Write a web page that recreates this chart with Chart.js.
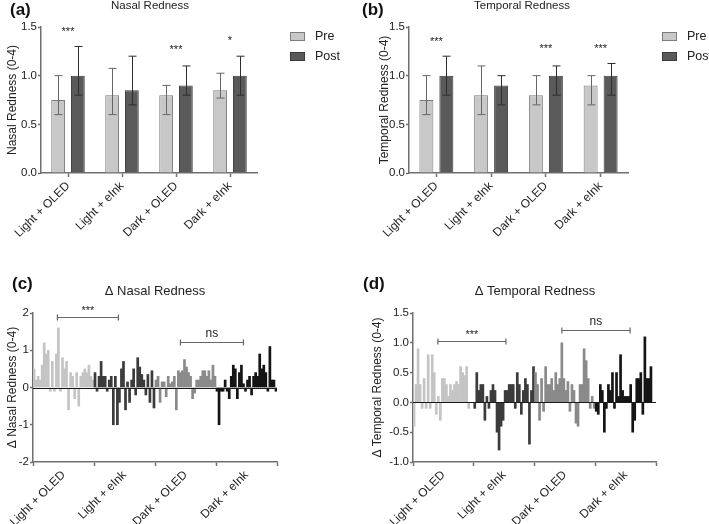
<!DOCTYPE html>
<html><head><meta charset="utf-8">
<script src="https://cdn.jsdelivr.net/npm/chart.js@4.4.0/dist/chart.umd.min.js"></script>
<style>
html,body{margin:0;padding:0;background:#fff;width:709px;height:524px;overflow:hidden}
canvas{position:absolute}
</style></head><body>
<canvas id="ca" style="left:0;top:0;width:354px;height:262px" width="354" height="262"></canvas>
<canvas id="cb" style="left:354px;top:0;width:355px;height:262px" width="355" height="262"></canvas>
<canvas id="cc" style="left:0;top:262px;width:354px;height:262px" width="354" height="262"></canvas>
<canvas id="cd" style="left:354px;top:262px;width:355px;height:262px" width="355" height="262"></canvas>
<script>
// ---------- data ----------
const categories = ['Light + OLED', 'Light + eInk', 'Dark + OLED', 'Dark + eInk'];
const seriesNames = ['Pre', 'Post'];

const nasalPre      = [0.75, 0.80, 0.80, 0.85];
const nasalPreLow   = [0.60, 0.60, 0.60, 0.77];
const nasalPreHigh  = [1.00, 1.075, 0.90, 1.025];
const nasalPost     = [1.00, 0.85, 0.90, 1.00];
const nasalPostLow  = [0.80, 0.70, 0.80, 0.80];
const nasalPostHigh = [1.30, 1.20, 1.10, 1.20];
const nasalSig      = ['***', '', '***', '*'];
const nasalSigY     = [1.48, null, 1.29, 1.39];

const tempPre      = [0.75, 0.80, 0.80, 0.90];
const tempPreLow   = [0.60, 0.60, 0.70, 0.70];
const tempPreHigh  = [1.00, 1.10, 1.00, 1.00];
const tempPost     = [1.00, 0.90, 1.00, 1.00];
const tempPostLow  = [0.80, 0.70, 0.80, 0.80];
const tempPostHigh = [1.20, 1.00, 1.10, 1.125];
const tempSig      = ['***', '', '***', '***'];
const tempSigY     = [1.38, null, 1.30, 1.30];

const nasalDeltaLightOLED = [0.5,0.2,0.3,0.2,0.6,1.2,0.9,1.0,-0.1,0.7,-0.1,0.9,1.6,-0.1,0.8,0.5,0.7,-0.6,0.4,0.3,-0.3,0.4,-0.5,0.3,0.4,0.5,0.4,0.6,0.3,0.2];
const nasalDeltaLightEInk = [0.4,-0.1,0.3,0.7,0.3,0.3,-0.1,0.2,0.3,-1.0,0.3,-1.0,-0.4,0.5,0.7,-0.6,0.15,-0.4,0.2,0.5,-0.2,0.8,0.55,0.35,0.2,-0.2,0.35,-0.4,0.45,-0.55];
const nasalDeltaDarkOLED  = [0.2,0.3,-0.4,0.15,0.15,-0.25,0.3,0.1,0.15,0.3,-0.6,0.45,0.4,0.45,0.75,0.55,0.4,0.3,-0.3,-0.15,0.2,0.2,0.3,0.45,0.45,0.3,0.45,0.2,0.6,0.3];
const nasalDeltaDarkEInk  = [-0.1,-1.0,-0.1,-0.1,0.2,-0.1,-0.3,0.3,0.6,0.5,-0.3,0.4,0.6,0.1,-0.1,0.2,0.3,-0.2,0.3,0.4,0.3,0.9,0.5,0.6,0.4,-0.1,1.1,0.2,0.2,-0.1];

const tempDeltaLightOLED = [-0.4,0.3,0.9,0.3,-0.1,0.4,-0.1,0.8,-0.1,0.8,0.5,-0.2,0.1,-0.3,0.4,0.4,0.3,0.1,0.3,0.2,0.3,0.35,0.3,0.6,0.5,0.45,0.6,-0.1,0,0];
const tempDeltaLightEInk = [-0.1,0.5,0.2,0.3,0.3,-0.3,0.1,-0.1,0.2,0.3,0.2,-0.5,-0.8,-0.4,-0.3,0.2,0.2,0.3,0.3,0.3,-0.1,0.5,0.3,-0.2,0.2,0.4,0.3,-0.7,0.2,0.6];
const tempDeltaDarkOLED  = [0.5,0.3,-0.3,0.4,-0.15,0.6,0.3,0.3,0.4,0.2,0.5,0.3,0.4,1.0,0.4,0.2,0.35,-0.15,0.3,0.2,-0.35,-0.4,0.3,0.3,0.9,0.7,0.4,-0.1,0.1,-0.1];
const tempDeltaDarkEInk  = [-0.15,-0.2,0.3,0.2,-0.5,-0.1,0.3,0.2,0.5,-0.1,0.5,0.1,0.8,0.2,0.1,0.1,0.1,0.3,-0.5,-0.3,0.4,0.4,0.5,-0.2,1.1,0.4,0.4,0.6,0,0];

// significance brackets (x in bar-index units, y in data units)
const nasalBracketFrom  = [11.5, 72];
const nasalBracketTo    = [41.5, 103];
const nasalBracketY     = [1.88, 1.23];
const nasalBracketLabel = ['***', 'ns'];
const tempBracketFrom   = [11.8, 73];
const tempBracketTo     = [45.4, 106.7];
const tempBracketY      = [1.03, 1.22];
const tempBracketLabel  = ['***', 'ns'];

// ---------- styling ----------
const FONT = "'Liberation Sans', Arial, Helvetica, sans-serif";
Chart.defaults.font.family = FONT;
Chart.defaults.font.size = 12;
Chart.defaults.color = '#222';
Chart.defaults.animation = false;
const AXIS = '#707070';
const groupColors = ['#c4c4c4', '#3b3b3b', '#8a8a8a', '#151515'];

const errorBars = {
  id: 'errorBars',
  afterDatasetsDraw(chart) {
    const ctx = chart.ctx, ys = chart.scales.y;
    chart.data.datasets.forEach((ds, di) => {
      if (!ds.errLow) return;
      const meta = chart.getDatasetMeta(di);
      ctx.save();
      ctx.strokeStyle = ds.errColor; ctx.lineWidth = 1;
      meta.data.forEach((bar, i) => {
        const x = Math.round(bar.x) + 0.5;
        const yl = ys.getPixelForValue(ds.errLow[i]);
        const yh = ys.getPixelForValue(ds.errHigh[i]);
        ctx.beginPath();
        ctx.moveTo(x, yl); ctx.lineTo(x, yh);
        ctx.moveTo(x - 4, yh); ctx.lineTo(x + 4, yh);
        ctx.moveTo(x - 4, yl); ctx.lineTo(x + 4, yl);
        ctx.stroke();
      });
      ctx.restore();
    });
  }
};

const deco = {
  id: 'deco',
  afterDatasetsDraw(chart, args, o) {
    const ctx = chart.ctx, ys = chart.scales.y, ca = chart.chartArea;
    ctx.save();
    if (o.zeroLine) {
      const y0 = Math.round(ys.getPixelForValue(0)) + 0.5;
      ctx.strokeStyle = '#1a1a1a'; ctx.lineWidth = 1;
      ctx.beginPath(); ctx.moveTo(ca.left, y0); ctx.lineTo(ca.right, y0); ctx.stroke();
    }
    ctx.restore();
  },
  afterDraw(chart, args, o) {
    const ctx = chart.ctx, xs = chart.scales.x, ys = chart.scales.y;
    ctx.save();
    ctx.fillStyle = '#111';
    ctx.font = 'bold 17px ' + FONT; ctx.textAlign = 'left'; ctx.textBaseline = 'top';
    ctx.fillText(o.letter, o.letterX, o.letterY);
    ctx.font = o.titleSize + 'px ' + FONT; ctx.textAlign = 'center'; ctx.textBaseline = 'middle';
    ctx.fillStyle = '#222';
    ctx.fillText(o.title, o.titleX, o.titleY);
    if (o.legend) {
      chart.data.datasets.forEach((ds, i) => {
        const y = o.legendY + i * 20;
        ctx.fillStyle = ds.backgroundColor;
        ctx.fillRect(o.legendX, y - 4, 15, 9);
        ctx.strokeStyle = ds.borderColor; ctx.lineWidth = 1;
        ctx.strokeRect(o.legendX + 0.5, y - 3.5, 14, 8);
        ctx.fillStyle = '#222'; ctx.textAlign = 'left'; ctx.textBaseline = 'middle';
        ctx.font = '12.5px ' + FONT;
        ctx.fillText(ds.label, o.legendX + 25, y + 1);
      });
    }
    if (o.sig) {
      ctx.font = '11px ' + FONT; ctx.textAlign = 'center'; ctx.textBaseline = 'alphabetic';
      ctx.fillStyle = '#222';
      o.sig.forEach((s, i) => {
        if (!s) return;
        ctx.fillText(s, xs.getPixelForValue(i), ys.getPixelForValue(o.sigY[i]) + 6);
      });
    }
    if (o.brFrom) {
      o.brFrom.forEach((f, i) => {
        const x1 = xs.getPixelForValue(f), x2 = xs.getPixelForValue(o.brTo[i]);
        const y = Math.round(ys.getPixelForValue(o.brY[i])) + 0.5;
        ctx.strokeStyle = '#666'; ctx.lineWidth = 1.2;
        ctx.beginPath();
        ctx.moveTo(x1, y); ctx.lineTo(x2, y);
        ctx.moveTo(x1, y - 3); ctx.lineTo(x1, y + 3);
        ctx.moveTo(x2, y - 3); ctx.lineTo(x2, y + 3);
        ctx.stroke();
        const lab = o.brLabel[i];
        ctx.fillStyle = '#222'; ctx.textAlign = 'center'; ctx.textBaseline = 'alphabetic';
        if (lab.indexOf('*') >= 0) { ctx.font = '11px ' + FONT; ctx.fillText(lab, (x1 + x2) / 2, y - 4); }
        else { ctx.font = '12px ' + FONT; ctx.fillText(lab, (x1 + x2) / 2, y - 6); }
      });
    }
    ctx.restore();
  }
};

function groupedChart(id, c) {
  return new Chart(document.getElementById(id), {
    type: 'bar',
    data: {
      labels: categories,
      datasets: [
        { label: seriesNames[0], data: c.pre, errLow: c.preLow, errHigh: c.preHigh,
          backgroundColor: '#c8c8c8', borderColor: '#7c7c7c', errColor: '#666', borderWidth: 1,
          categoryPercentage: 0.73, barPercentage: 0.7 },
        { label: seriesNames[1], data: c.post, errLow: c.postLow, errHigh: c.postHigh,
          backgroundColor: '#5a5a5a', borderColor: '#3a3a3a', errColor: '#2e2e2e', borderWidth: 1,
          categoryPercentage: 0.73, barPercentage: 0.7 }
      ]
    },
    options: {
      responsive: false, animation: false,
      layout: { padding: { left: 0, top: 27, right: c.padRight, bottom: 0 } },
      plugins: { legend: { display: false }, tooltip: { enabled: false }, deco: c.deco },
      scales: {
        x: {
          grid: { offset: false, drawOnChartArea: false, tickLength: 4, tickColor: AXIS, tickWidth: 1.5 },
          border: { color: AXIS, width: 1.5 },
          ticks: { minRotation: 45, maxRotation: 45, autoSkip: false, padding: 2, color: '#222', font: { size: 12 } },
          afterFit: s => { s.height = 89; s.paddingLeft = 0; s.paddingRight = 0; }
        },
        y: {
          min: 0, max: 1.5,
          grid: { drawOnChartArea: false, tickLength: 3, tickColor: AXIS, tickWidth: 1.5 },
          border: { color: AXIS, width: 1.5 },
          ticks: { stepSize: 0.5, padding: 1, color: '#222', font: { size: 11.5 }, callback: v => v.toFixed(1) },
          title: { display: true, text: c.yTitle, color: '#222', font: { size: 12 }, padding: { top: c.yTitlePad, bottom: 0 } },
          afterFit: s => { s.width = c.yWidth; s.paddingTop = 0; s.paddingBottom = 0; }
        }
      }
    },
    plugins: [errorBars, deco]
  });
}

function deltaChart(id, groups, c) {
  const pts = [], cols = [];
  groups.forEach((arr, g) => arr.forEach((v, i) => { pts.push({ x: g * arr.length + i, y: v }); cols.push(groupColors[g]); }));
  const n = groups[0].length;
  const centers = categories.map((_, g) => g * n + (n - 1) / 2);
  return new Chart(document.getElementById(id), {
    type: 'bar',
    data: { datasets: [{ data: pts, backgroundColor: cols, borderWidth: 0, categoryPercentage: 1, barPercentage: 1 }] },
    options: {
      responsive: false, animation: false,
      layout: { padding: { left: 0, top: 51, right: c.padRight, bottom: 0 } },
      plugins: { legend: { display: false }, tooltip: { enabled: false }, deco: c.deco },
      scales: {
        x: {
          type: 'linear', min: -0.5, max: groups.length * n - 0.5, offset: false,
          grid: { drawOnChartArea: false, tickLength: 4, tickColor: AXIS, tickWidth: 1.5 },
          border: { color: AXIS, width: 1.5 },
          afterBuildTicks: s => { s.ticks = centers.map(v => ({ value: v })); },
          ticks: { minRotation: 45, maxRotation: 45, autoSkip: false, padding: 2, color: '#222', font: { size: 12 },
                   callback: (v, i) => categories[i] },
          afterFit: s => { s.height = 62; s.paddingLeft = 0; s.paddingRight = 0; }
        },
        y: {
          min: c.yMin, max: c.yMax,
          grid: { drawOnChartArea: false, tickLength: 3, tickColor: AXIS, tickWidth: 1.5 },
          border: { color: AXIS, width: 1.5 },
          ticks: { stepSize: c.yStep, padding: 1, color: '#222', font: { size: 11.5 }, callback: c.yFmt },
          title: { display: true, text: c.yTitle, color: '#222', font: { size: 12 }, padding: { top: c.yTitlePad, bottom: 0 } },
          afterFit: s => { s.width = c.yWidth; s.paddingTop = 0; s.paddingBottom = 0; }
        }
      }
    },
    plugins: [deco]
  });
}

groupedChart('ca', {
  pre: nasalPre, preLow: nasalPreLow, preHigh: nasalPreHigh,
  post: nasalPost, postLow: nasalPostLow, postHigh: nasalPostHigh,
  padRight: 97, yWidth: 41, yTitle: 'Nasal Redness (0-4)', yTitlePad: 5,
  deco: { letter: '(a)', letterX: 10, letterY: 2, title: 'Nasal Redness', titleSize: 11.5, titleX: 150, titleY: 6,
          legend: true, legendX: 290, legendY: 36, sig: nasalSig, sigY: nasalSigY }
});
groupedChart('cb', {
  pre: tempPre, preLow: tempPreLow, preHigh: tempPreHigh,
  post: tempPost, postLow: tempPostLow, postHigh: tempPostHigh,
  padRight: 81, yWidth: 55, yTitle: 'Temporal Redness (0-4)', yTitlePad: 23,
  deco: { letter: '(b)', letterX: 8, letterY: 2, title: 'Temporal Redness', titleSize: 11.5, titleX: 168, titleY: 6,
          legend: true, legendX: 308, legendY: 36, sig: tempSig, sigY: tempSigY }
});
deltaChart('cc', [nasalDeltaLightOLED, nasalDeltaLightEInk, nasalDeltaDarkOLED, nasalDeltaDarkEInk], {
  padRight: 77, yWidth: 33, yMin: -2, yMax: 2, yStep: 1, yFmt: v => String(v),
  yTitle: 'Δ Nasal Redness (0-4)', yTitlePad: 5,
  deco: { letter: '(c)', letterX: 12, letterY: 14, title: 'Δ Nasal Redness', titleSize: 13, titleX: 155, titleY: 29,
          zeroLine: true, brFrom: nasalBracketFrom, brTo: nasalBracketTo, brY: nasalBracketY, brLabel: nasalBracketLabel }
});
deltaChart('cd', [tempDeltaLightOLED, tempDeltaLightEInk, tempDeltaDarkOLED, tempDeltaDarkEInk], {
  padRight: 53, yWidth: 59, yMin: -1, yMax: 1.5, yStep: 0.5, yFmt: v => v.toFixed(1),
  yTitle: 'Δ Temporal Redness (0-4)', yTitlePad: 16,
  deco: { letter: '(d)', letterX: 9, letterY: 14, title: 'Δ Temporal Redness', titleSize: 13, titleX: 181, titleY: 29,
          zeroLine: true, brFrom: tempBracketFrom, brTo: tempBracketTo, brY: tempBracketY, brLabel: tempBracketLabel }
});
</script>
</body></html>
